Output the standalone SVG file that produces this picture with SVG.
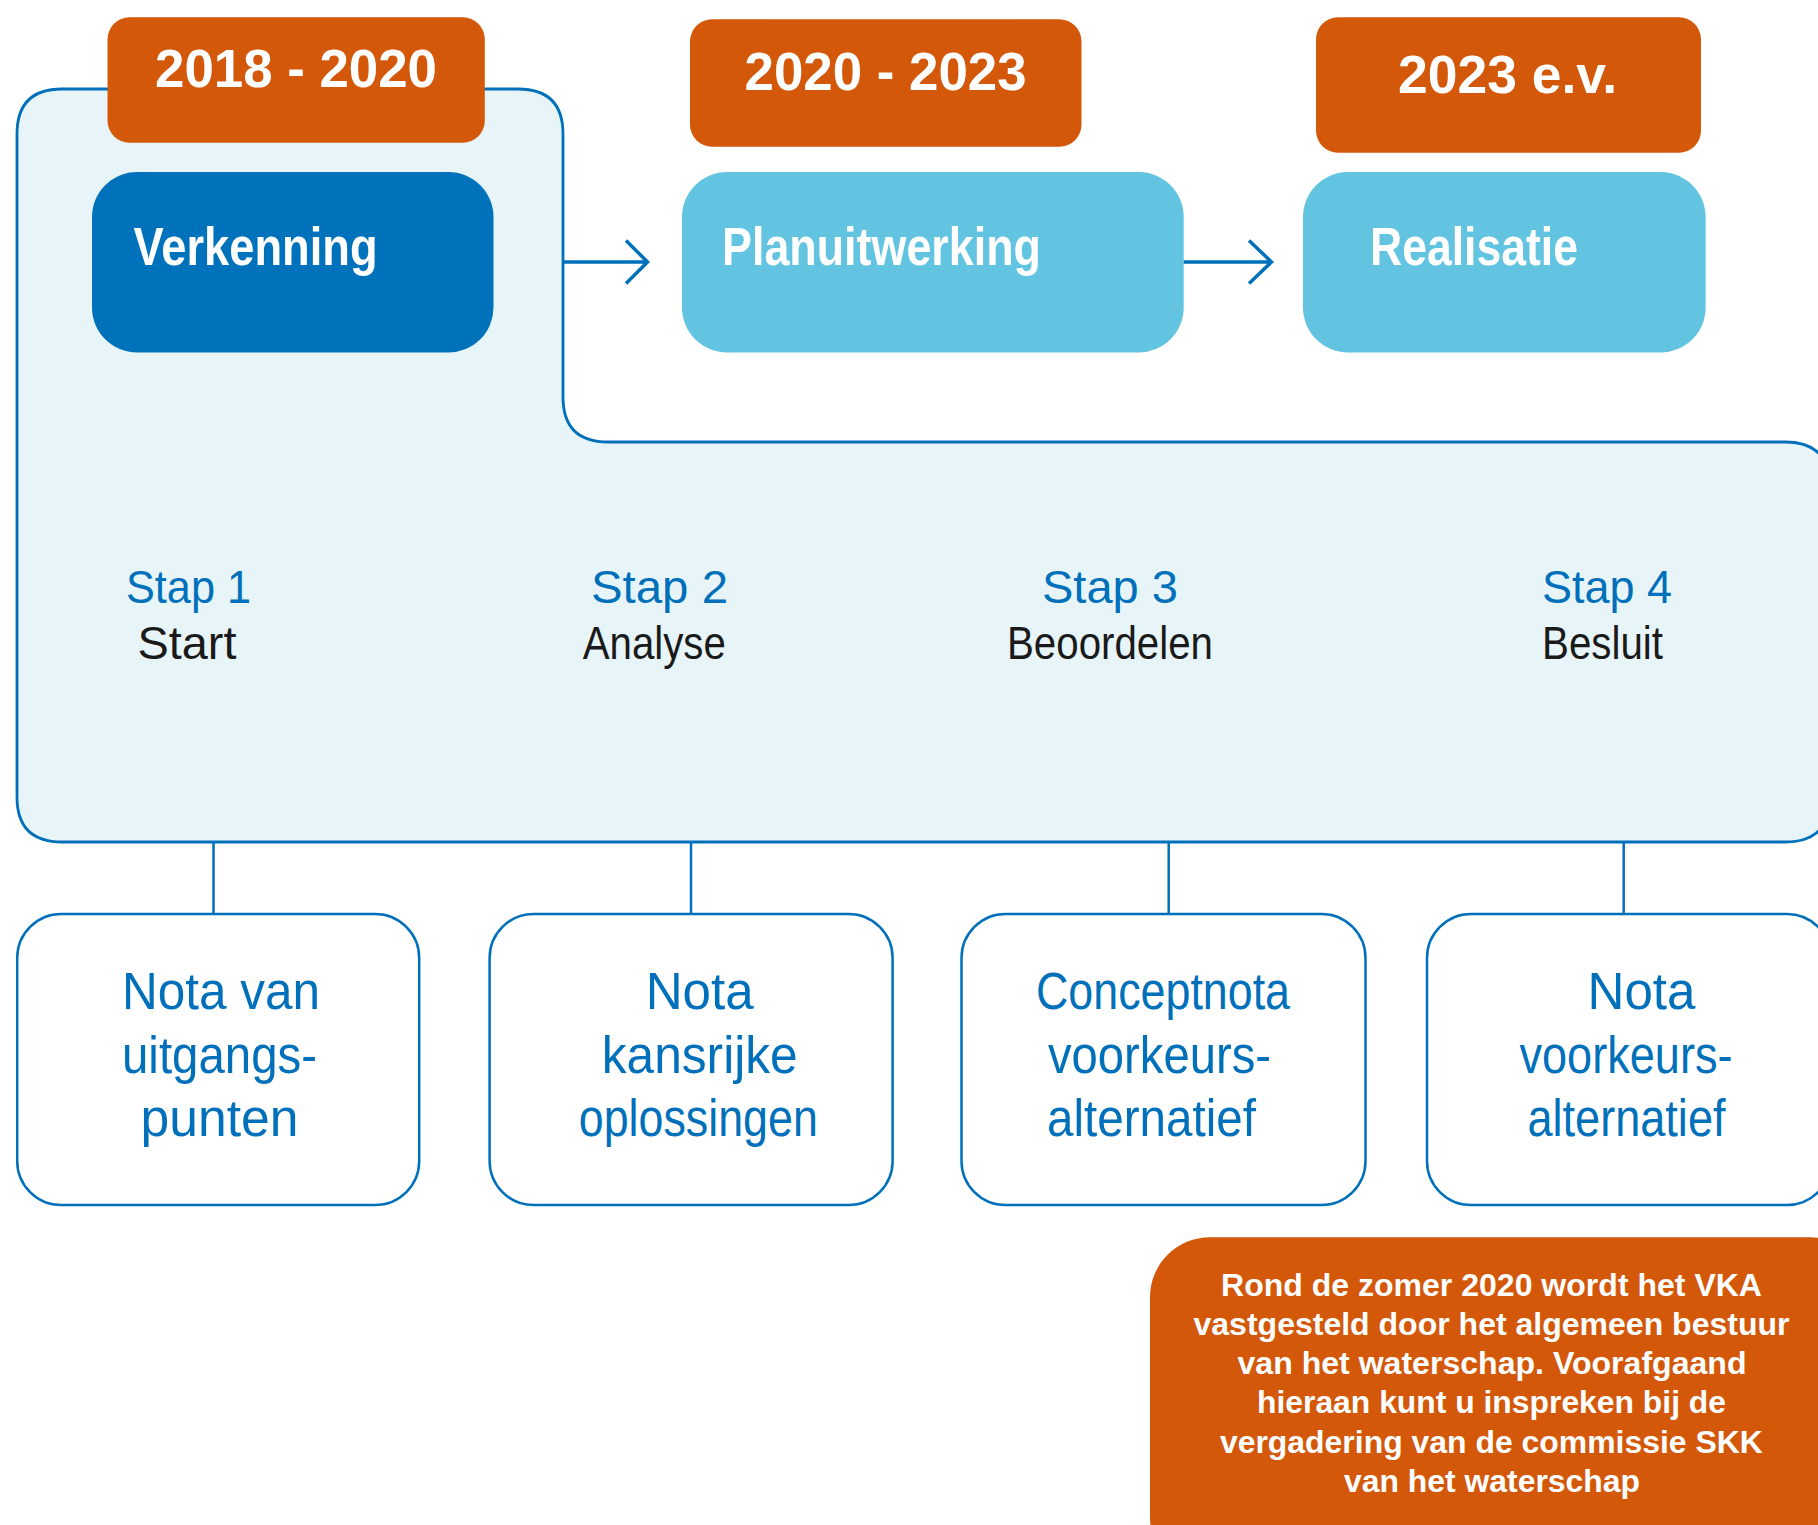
<svg xmlns="http://www.w3.org/2000/svg" width="1818" height="1525" viewBox="0 0 1818 1525">
<style>
text{font-family:"Liberation Sans",Arial,Helvetica,sans-serif}
.yr{font-weight:bold;font-size:54px;fill:#fff;text-anchor:middle}
.ph{font-weight:bold;font-size:54px;fill:#fff}
.stap{font-size:47px;fill:#0070BB;text-anchor:middle}
.sub{font-size:47px;fill:#1a1a1a;text-anchor:middle}
.doc{font-size:51px;fill:#0070BB;text-anchor:middle}
.note{font-weight:bold;font-size:32px;fill:#fff;text-anchor:middle}
.orange{fill:#D4580A}
.conn{stroke:#0070BB;stroke-width:2.5;fill:none}
.arrow{stroke:#0070BB;stroke-width:3.5;fill:none}
.docbox{fill:#fff;stroke:#0070BB;stroke-width:2.5}
.light{fill:#62C4E0}
</style>

<g id="container">
<path d="M17,134 Q17,89 62,89 L518,89 Q563,89 563,134 L563,397 Q563,442 608,442 L1785,442 Q1830,442 1830,487 L1830,797 Q1830,842 1785,842 L62,842 Q17,842 17,797 Z" fill="#E8F5F8" stroke="#0070BB" stroke-width="2.8"/>
</g>

<g id="year-2018-2020">
<rect class="orange" x="107.5" y="17.3" width="377.3" height="125.4" rx="22"/>
<text class="yr" x="296" y="86.7" textLength="282" lengthAdjust="spacingAndGlyphs">2018 - 2020</text>
</g>
<g id="year-2020-2023">
<rect class="orange" x="690" y="19.3" width="391.5" height="127.4" rx="22"/>
<text class="yr" x="885.6" y="90" textLength="282" lengthAdjust="spacingAndGlyphs">2020 - 2023</text>
</g>
<g id="year-2023">
<rect class="orange" x="1316" y="17.3" width="385" height="135.4" rx="22"/>
<text class="yr" x="1507.5" y="93.3" textLength="219" lengthAdjust="spacingAndGlyphs">2023 e.v.</text>
</g>

<g id="verkenning">
<rect x="92" y="172" width="401.5" height="180.5" rx="45" fill="#0072BC"/>
<text class="ph" x="133.6" y="265" textLength="244" lengthAdjust="spacingAndGlyphs">Verkenning</text>
</g>
<g id="planuitwerking">
<rect class="light" x="682" y="172" width="501.7" height="180.5" rx="45"/>
<text class="ph" x="722" y="265" textLength="319" lengthAdjust="spacingAndGlyphs">Planuitwerking</text>
</g>
<g id="realisatie">
<rect class="light" x="1303" y="172" width="402.6" height="180.5" rx="45"/>
<text class="ph" x="1370" y="265" textLength="208" lengthAdjust="spacingAndGlyphs">Realisatie</text>
</g>

<g id="stap1">
<text class="stap" x="188.5" y="602.7" textLength="125" lengthAdjust="spacingAndGlyphs">Stap 1</text>
<text class="sub" x="187" y="659.3" textLength="99" lengthAdjust="spacingAndGlyphs">Start</text>
</g>
<g id="stap2">
<text class="stap" x="659.5" y="602.7" textLength="137" lengthAdjust="spacingAndGlyphs">Stap 2</text>
<text class="sub" x="654.3" y="659.3" textLength="143" lengthAdjust="spacingAndGlyphs">Analyse</text>
</g>
<g id="stap3">
<text class="stap" x="1110" y="602.7" textLength="136" lengthAdjust="spacingAndGlyphs">Stap 3</text>
<text class="sub" x="1110" y="659.3" textLength="206" lengthAdjust="spacingAndGlyphs">Beoordelen</text>
</g>
<g id="stap4">
<text class="stap" x="1607" y="602.7" textLength="130" lengthAdjust="spacingAndGlyphs">Stap 4</text>
<text class="sub" x="1602.5" y="659.3" textLength="121" lengthAdjust="spacingAndGlyphs">Besluit</text>
</g>

<g id="connectors">
<path class="arrow" d="M563,262 L647,262 M626,240.5 L647.5,262 L626,283.5"/>
<path class="arrow" d="M1183.7,262 L1271,262 M1249,240.5 L1271.5,262 L1249,283.5"/>
<path class="conn" d="M213.5,842 V914 M691,842 V914 M1168.7,842 V914 M1623.7,842 V914"/>
</g>

<g id="doc1">
<rect class="docbox" x="17.2" y="914" width="402" height="291" rx="44"/>
<text class="doc" x="221" y="1009" textLength="198" lengthAdjust="spacingAndGlyphs">Nota van</text>
<text class="doc" x="219.5" y="1072.7" textLength="195" lengthAdjust="spacingAndGlyphs">uitgangs-</text>
<text class="doc" x="219.5" y="1136" textLength="158" lengthAdjust="spacingAndGlyphs">punten</text>
</g>
<g id="doc2">
<rect class="docbox" x="489.6" y="914" width="403" height="291" rx="44"/>
<text class="doc" x="699.7" y="1009" textLength="108" lengthAdjust="spacingAndGlyphs">Nota</text>
<text class="doc" x="699.7" y="1072.7" textLength="196" lengthAdjust="spacingAndGlyphs">kansrijke</text>
<text class="doc" x="698.3" y="1136" textLength="239" lengthAdjust="spacingAndGlyphs">oplossingen</text>
</g>
<g id="doc3">
<rect class="docbox" x="961.5" y="914" width="404" height="291" rx="44"/>
<text class="doc" x="1163" y="1009" textLength="254" lengthAdjust="spacingAndGlyphs">Conceptnota</text>
<text class="doc" x="1159.5" y="1072.7" textLength="223" lengthAdjust="spacingAndGlyphs">voorkeurs-</text>
<text class="doc" x="1151.5" y="1136" textLength="209" lengthAdjust="spacingAndGlyphs">alternatief</text>
</g>
<g id="doc4">
<rect class="docbox" x="1427" y="914" width="404" height="291" rx="44"/>
<text class="doc" x="1641.5" y="1009" textLength="108" lengthAdjust="spacingAndGlyphs">Nota</text>
<text class="doc" x="1626" y="1072.7" textLength="213" lengthAdjust="spacingAndGlyphs">voorkeurs-</text>
<text class="doc" x="1626.5" y="1136" textLength="198" lengthAdjust="spacingAndGlyphs">alternatief</text>
</g>

<g id="note">
<rect class="orange" x="1150" y="1237.3" width="720" height="340" rx="60"/>
<text class="note" x="1491.5" y="1296" textLength="541" lengthAdjust="spacingAndGlyphs">Rond de zomer 2020 wordt het VKA</text>
<text class="note" x="1491.5" y="1335" textLength="596" lengthAdjust="spacingAndGlyphs">vastgesteld door het algemeen bestuur</text>
<text class="note" x="1492" y="1374.3" textLength="509" lengthAdjust="spacingAndGlyphs">van het waterschap. Voorafgaand</text>
<text class="note" x="1491.5" y="1413.3" textLength="469" lengthAdjust="spacingAndGlyphs">hieraan kunt u inspreken bij de</text>
<text class="note" x="1491.4" y="1452.7" textLength="543" lengthAdjust="spacingAndGlyphs">vergadering van de commissie SKK</text>
<text class="note" x="1492" y="1491.7" textLength="296" lengthAdjust="spacingAndGlyphs">van het waterschap</text>
</g>
</svg>
